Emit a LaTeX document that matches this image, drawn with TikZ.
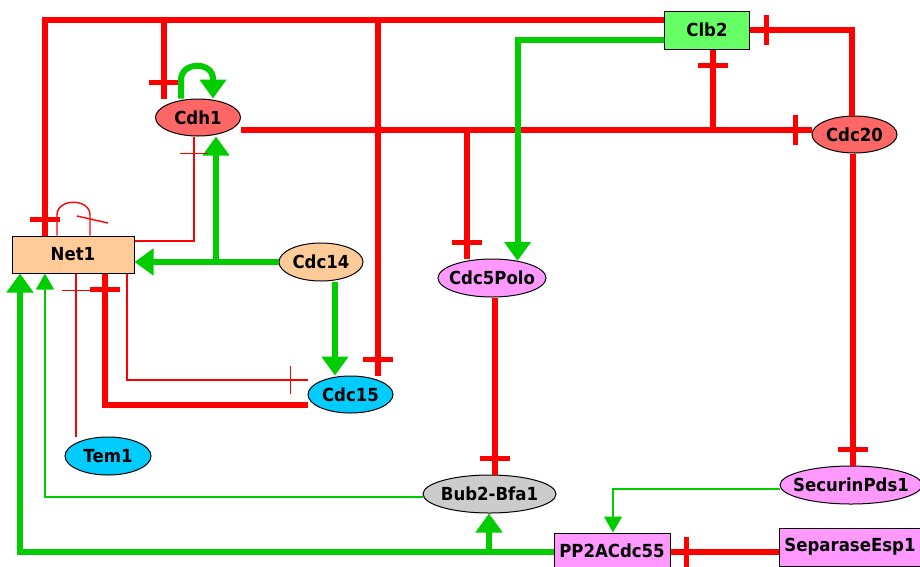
\documentclass[tikz,border=0pt]{standalone}
\usepackage{fontspec}
\setmainfont{DejaVu Sans}[FakeStretch=0.92]
\usetikzlibrary{arrows.meta,shapes.geometric,decorations.markings}
\definecolor{cred}{HTML}{FF0000}
\definecolor{cgreen}{HTML}{00CC00}
\definecolor{cclb}{HTML}{66FF66}
\definecolor{ccdh}{HTML}{FF6666}
\definecolor{cnet}{HTML}{FFCC99}
\definecolor{cpink}{HTML}{FF99FF}
\definecolor{cblue}{HTML}{00CCFF}
\definecolor{cgray}{HTML}{CCCCCC}
\newcommand\nodefont{\bfseries\fontsize{18}{21}\selectfont}
\newcommand\ztext[1]{\makebox[0pt]{#1}}
\begin{document}
\begin{tikzpicture}[x=1pt,y=-1pt,
  ell/.style={ellipse, draw=black, line width=1pt, inner sep=0pt, font=\nodefont},
  box/.style={rectangle, draw=black, line width=1pt, inner sep=0pt, font=\nodefont},
  R/.style={draw=cred, line width=6pt},
  Rs/.style={draw=cred, line width=1.4pt},
  G/.style={draw=cgreen, line width=6pt, -{Triangle[width=26pt,length=19pt]}},
  Gs/.style={draw=cgreen, line width=1.4pt, -{Triangle[width=18pt,length=16pt]}},
  tbar/.style={postaction={decorate,decoration={markings,mark=at position -16pt with {\draw[cred,line width=5pt] (0pt,-15pt)--(0pt,15pt);}}}},
  sbar/.style={postaction={decorate,decoration={markings,mark=at position -17pt with {\draw[cred,line width=1.4pt] (0pt,-14pt)--(0pt,14pt);}}}}
]
\useasboundingbox (0,0) rectangle (920,566);

% nodes
\node[box, fill=cclb, minimum width=85pt, minimum height=38pt] (Clb2) at (707,30) {Clb2};
\node[ell, fill=ccdh, minimum width=85pt, minimum height=37pt] (Cdh1) at (198,117.5) {\ztext{Cdh1}};
\node[ell, fill=ccdh, minimum width=85pt, minimum height=37pt] (Cdc20) at (854.5,134.5) {\ztext{Cdc20}};
\node[box, fill=cnet, minimum width=122pt, minimum height=37pt] (Net1) at (73,254.5) {Net1};
\node[ell, fill=cnet, minimum width=84pt, minimum height=38pt] (Cdc14) at (321,262) {\ztext{Cdc14}};
\node[ell, fill=cpink, minimum width=108pt, minimum height=38pt] (Cdc5Polo) at (492,278) {\ztext{Cdc5Polo}};
\node[ell, fill=cblue, minimum width=85pt, minimum height=37pt] (Cdc15) at (350.5,394.5) {\ztext{Cdc15}};
\node[ell, fill=cblue, minimum width=86pt, minimum height=38pt] (Tem1) at (108,456) {\ztext{Tem1}};
\node[ell, fill=cgray, minimum width=133pt, minimum height=38pt] (Bub2) at (489.5,494) {\ztext{Bub2-Bfa1}};
\node[ell, fill=cpink, minimum width=142pt, minimum height=38pt] (SecurinPds1) at (851,485) {\ztext{SecurinPds1}};
\node[box, fill=cpink, minimum width=116pt, minimum height=36pt] (PP2ACdc55) at (612,551) {PP2ACdc55};
\node[box, fill=cpink, minimum width=142pt, minimum height=38pt] (SeparaseEsp1) at (850,547) {SeparaseEsp1};

% Clb2 inhibitions (top line)
\draw[R,tbar] ([yshift=10pt]Clb2.west) -| (Net1.north -| 45,0);
\coordinate (t1) at (164,20);
\coordinate (t2) at (378,20);
\draw[R,tbar] (t1) -- (Cdh1.north -| 164,0);
\draw[R,tbar] (t2) -- (Cdc15.north -| 378,0);

% Cdh1 self activation
\draw[G] (Cdh1.north -| 181,0) -- (181,80) .. controls (181,61) and (214,61) .. (213,80) -- (Cdh1.north -| 213,0);

% Cdh1 inhibitions
\draw[R,tbar] (Cdh1.east |- 0,130) -- (Cdc20.west |- 0,130);
\coordinate (h1) at (713,130);
\coordinate (h2) at (467,130);
\draw[R,tbar] (h1) -- (Clb2.south -| 713,0);
\draw[R,tbar] (h2) -- (Cdc5Polo.north -| 467,0);

% Cdc20
\draw[R,tbar] (Cdc20.north -| 852,0) |- (Clb2.east);
\draw[R,tbar] (Cdc20.south -| 853,0) -- (SecurinPds1.north -| 853,0);

% Clb2 -> Cdc5Polo
\draw[G] ([yshift=-10pt]Clb2.west) -| (Cdc5Polo.34);

% Cdc14
\draw[G] (Cdc14.west) -- (Net1.east |- Cdc14.west);
\coordinate (c14) at (216,262);
\draw[G] (c14) -- (Cdh1.south -| 216,0);
\draw[G] (Cdc14.south -| 335,0) -- (Cdc15.north -| 335,0);

% Net1 thin inhibitions
\draw[Rs,sbar] ([yshift=13.5pt]Net1.east) -| (Cdh1.south -| 194,0);
\draw[Rs] (Net1.north -| 57,0) -- (57,215) .. controls (57,198) and (90,198) .. (90,215) -- (Net1.north -| 90,0);
\draw[Rs] (77,216) -- (108,223);
\draw[Rs,sbar] (Net1.south -| 127,0) |- (Cdc15.west |- 0,380);

% Cdc15 -| Net1
\draw[R,tbar] (Cdc15.west |- 0,405) -| (Net1.south -| 105,0);
% Tem1 -| Net1
\draw[Rs,sbar] (Tem1.north -| 76,0) -- (Net1.south -| 76,0);
% Bub2 -> Net1
\draw[Gs] (Bub2.west |- 0,497) -| (Net1.south -| 45,0);
% PP2ACdc55 -> Net1, Bub2
\draw[G] (PP2ACdc55.west |- 0,552) -| (Net1.south -| 20,0);
\coordinate (p1) at (489,552);
\draw[G] (p1) -- (Bub2.south -| 489,0);
% Cdc5Polo -| Bub2
\draw[R,tbar] (Cdc5Polo.south -| 495,0) -- (Bub2.north -| 495,0);
% Securin -> PP2A
\draw[Gs] (SecurinPds1.west |- 0,489) -| (PP2ACdc55.north -| 613,0);
% Separase -| PP2A
\draw[R,tbar] (SeparaseEsp1.west |- 0,552) -- (PP2ACdc55.east |- 0,552);
\end{tikzpicture}
\end{document}
